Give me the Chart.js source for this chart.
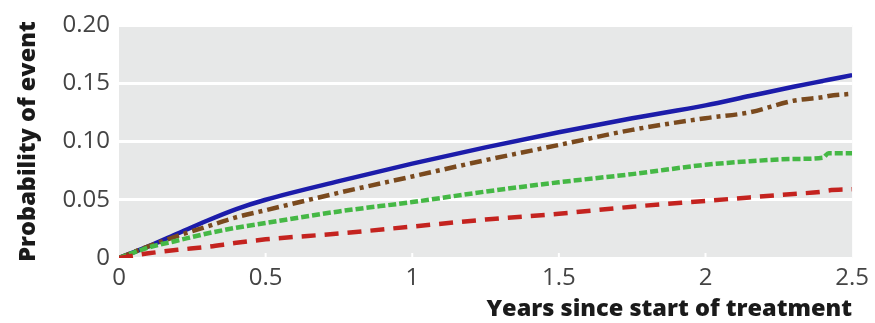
<!DOCTYPE html>
<html>
<head>
<meta charset="utf-8">
<script src="https://cdn.jsdelivr.net/npm/chart.js@4.4.1/dist/chart.umd.min.js"></script>
<style>
  html, body { margin: 0; padding: 0; background: #ffffff; }
  #wrap { width: 875px; height: 323px; position: relative; }
</style>
</head>
<body>
<div id="wrap"><canvas id="c" width="875" height="323"></canvas></div>
<script>
// Years since start of treatment (x positions of the read points)
const years = [0, 0.1, 0.2, 0.3, 0.4, 0.5, 0.75, 1.0, 1.25, 1.5, 1.75, 2.0, 2.15, 2.3, 2.4, 2.42, 2.5];
// Probability of event
const blueSeries  = [0, 0.010, 0.021, 0.032, 0.042, 0.050, 0.066, 0.081, 0.095, 0.108, 0.120, 0.131, 0.139, 0.147, 0.152, 0.153, 0.157];
const brownSeries = [0, 0.010, 0.019, 0.027, 0.035, 0.041, 0.056, 0.070, 0.084, 0.097, 0.110, 0.120, 0.125, 0.135, 0.138, 0.139, 0.141];
const greenSeries = [0, 0.009, 0.015, 0.021, 0.026, 0.030, 0.040, 0.048, 0.057, 0.065, 0.072, 0.080, 0.083, 0.085, 0.086, 0.090, 0.090];
const redSeries   = [0, 0.004, 0.007, 0.0095, 0.013, 0.016, 0.021, 0.027, 0.033, 0.038, 0.044, 0.049, 0.052, 0.055, 0.057, 0.058, 0.059];
// Tick labels
const xTickLabels = {0: '0', 0.5: '0.5', 1: '1', 1.5: '1.5', 2: '2', 2.5: '2.5'};
const yTickLabels = {0: '0', 0.05: '0.05', 0.1: '0.10', 0.15: '0.15', 0.2: '0.20'};

const toPts = arr => years.map((x, i) => ({x: x, y: arr[i]}));

const bgPlugin = {
  id: 'plotBg',
  beforeDraw(chart) {
    const {ctx, chartArea: a} = chart;
    ctx.save();
    ctx.fillStyle = '#e7e8e8';
    ctx.fillRect(a.left, a.top, a.right - a.left, a.bottom - a.top);
    ctx.restore();
  },
  beforeDatasetsDraw(chart) {
    // small white tick marks at bottom of plot area
    const {ctx, chartArea: a, scales} = chart;
    const xs = scales.x;
    ctx.save();
    ctx.strokeStyle = '#ffffff';
    ctx.lineWidth = 2;
    xs.ticks.forEach(t => {
      const px = xs.getPixelForValue(t.value);
      if (t.value <= 0 || t.value >= 2.5) return;
      ctx.beginPath();
      ctx.moveTo(px, a.bottom);
      ctx.lineTo(px, a.bottom - 5);
      ctx.stroke();
    });
    ctx.restore();
  }
};

const tickFont = {family: '"Open Sans", sans-serif', size: 24, weight: '400'};
const titleFont = {family: '"Open Sans", Lato, sans-serif', size: 23.5, weight: '800'};

new Chart(document.getElementById('c'), {
  type: 'line',
  data: {
    datasets: [
      {data: toPts(redSeries), borderColor: '#c4231f', borderWidth: 4.5, borderDash: [14, 9], pointRadius: 0, cubicInterpolationMode: 'monotone'},
      {data: toPts(greenSeries), borderColor: '#45b845', borderWidth: 4.5, borderDash: [8, 3], pointRadius: 0, cubicInterpolationMode: 'monotone'},
      {data: toPts(brownSeries), borderColor: '#7a4a1e', borderWidth: 4.5, borderDash: [12, 5, 4, 5], pointRadius: 0, cubicInterpolationMode: 'monotone'},
      {data: toPts(blueSeries), borderColor: '#1c1caa', borderWidth: 4.5, pointRadius: 0, cubicInterpolationMode: 'monotone'}
    ]
  },
  options: {
    responsive: false,
    animation: false,
    events: [],
    layout: {padding: {top: 25, right: 22, left: 0, bottom: 0}},
    plugins: {legend: {display: false}, tooltip: {enabled: false}},
    scales: {
      x: {
        type: 'linear', min: 0, max: 2.5,
        afterFit(s) { s.height = 65; },
        afterBuildTicks(s) { s.ticks = Object.keys(xTickLabels).map(v => ({value: +v})); },
        ticks: {
          font: tickFont, color: '#444444', padding: 6, maxRotation: 0,
          callback: v => xTickLabels[v] !== undefined ? xTickLabels[v] : ''
        },
        grid: {display: false, drawTicks: false},
        border: {display: false},
        title: {display: true, text: 'Years since start of treatment', align: 'end', font: titleFont, color: '#1a1a1a', padding: {top: 0, bottom: 0}}
      },
      y: {
        type: 'linear', min: 0, max: 0.2,
        afterFit(s) { s.width = 119; },
        afterBuildTicks(s) { s.ticks = Object.keys(yTickLabels).map(v => ({value: +v})); },
        ticks: {
          font: tickFont, color: '#444444', padding: 9,
          callback: v => { const k = Object.keys(yTickLabels).find(q => Math.abs(+q - v) < 1e-9); return k !== undefined ? yTickLabels[k] : ''; }
        },
        grid: {color: '#ffffff', lineWidth: 3, drawTicks: false},
        border: {display: false},
        title: {display: true, text: 'Probability of event', font: titleFont, color: '#1a1a1a', padding: {top: 14, bottom: 0}}
      }
    }
  },
  plugins: [bgPlugin]
});
</script>
</body>
</html>
